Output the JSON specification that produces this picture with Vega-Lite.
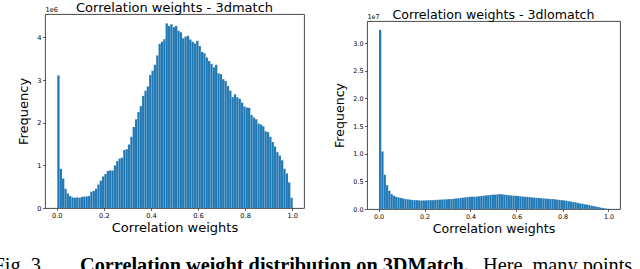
{
  "$schema": "https://vega.github.io/schema/vega-lite/v6.json",
  "padding": {"left": -7, "top": 0, "right": 0, "bottom": 0},
  "background": "white",
  "config": {
    "font": "DejaVu Sans",
    "view": {"stroke": "#333", "strokeWidth": 0.9},
    "axis": {"domain": false, "grid": false, "tickColor": "#000", "tickSize": 2.5, "tickWidth": 0.6, "labelFont": "DejaVu Sans", "labelFontSize": 6.7, "labelColor": "#000", "labelPadding": 1.5, "titleFont": "DejaVu Sans", "titleFontSize": 13, "titleFontWeight": "normal", "titleColor": "#000"},
    "title": {"font": "DejaVu Sans", "fontSize": 13, "fontWeight": "normal", "color": "#000"},
    "bar": {"color": "#1f77b4", "binSpacing": 0, "stroke": "#ffffff", "strokeWidth": 0.25, "strokeOpacity": 0.35}
  },
  "datasets": {
    "m": [
      {"b":0.00,"e":0.01,"v":3110000},{"b":0.01,"e":0.02,"v":920000},{"b":0.02,"e":0.03,"v":690000},{"b":0.03,"e":0.04,"v":450000},{"b":0.04,"e":0.05,"v":340000},
      {"b":0.05,"e":0.06,"v":280000},{"b":0.06,"e":0.07,"v":250000},{"b":0.07,"e":0.08,"v":240000},{"b":0.08,"e":0.09,"v":250000},{"b":0.09,"e":0.10,"v":240000},
      {"b":0.10,"e":0.11,"v":260000},{"b":0.11,"e":0.12,"v":270000},{"b":0.12,"e":0.13,"v":270000},{"b":0.13,"e":0.14,"v":280000},{"b":0.14,"e":0.15,"v":380000},
      {"b":0.15,"e":0.16,"v":400000},{"b":0.16,"e":0.17,"v":450000},{"b":0.17,"e":0.18,"v":550000},{"b":0.18,"e":0.19,"v":640000},{"b":0.19,"e":0.20,"v":740000},
      {"b":0.20,"e":0.21,"v":800000},{"b":0.21,"e":0.22,"v":870000},{"b":0.22,"e":0.23,"v":880000},{"b":0.23,"e":0.24,"v":880000},{"b":0.24,"e":0.25,"v":1000000},
      {"b":0.25,"e":0.26,"v":1100000},{"b":0.26,"e":0.27,"v":1160000},{"b":0.27,"e":0.28,"v":1180000},{"b":0.28,"e":0.29,"v":1360000},{"b":0.29,"e":0.30,"v":1380000},
      {"b":0.30,"e":0.31,"v":1490000},{"b":0.31,"e":0.32,"v":1670000},{"b":0.32,"e":0.33,"v":1900000},{"b":0.33,"e":0.34,"v":2080000},{"b":0.34,"e":0.35,"v":2250000},
      {"b":0.35,"e":0.36,"v":2390000},{"b":0.36,"e":0.37,"v":2630000},{"b":0.37,"e":0.38,"v":2750000},{"b":0.38,"e":0.39,"v":2850000},{"b":0.39,"e":0.40,"v":3120000},
      {"b":0.40,"e":0.41,"v":3220000},{"b":0.41,"e":0.42,"v":3360000},{"b":0.42,"e":0.43,"v":3580000},{"b":0.43,"e":0.44,"v":3850000},{"b":0.44,"e":0.45,"v":3900000},
      {"b":0.45,"e":0.46,"v":3960000},{"b":0.46,"e":0.47,"v":4330000},{"b":0.47,"e":0.48,"v":4270000},{"b":0.48,"e":0.49,"v":4310000},{"b":0.49,"e":0.50,"v":4240000},
      {"b":0.50,"e":0.51,"v":4270000},{"b":0.51,"e":0.52,"v":4160000},{"b":0.52,"e":0.53,"v":4120000},{"b":0.53,"e":0.54,"v":3980000},{"b":0.54,"e":0.55,"v":4020000},
      {"b":0.55,"e":0.56,"v":4040000},{"b":0.56,"e":0.57,"v":3950000},{"b":0.57,"e":0.58,"v":3900000},{"b":0.58,"e":0.59,"v":3860000},{"b":0.59,"e":0.60,"v":3920000},
      {"b":0.60,"e":0.61,"v":3800000},{"b":0.61,"e":0.62,"v":3660000},{"b":0.62,"e":0.63,"v":3630000},{"b":0.63,"e":0.64,"v":3530000},{"b":0.64,"e":0.65,"v":3450000},
      {"b":0.65,"e":0.66,"v":3380000},{"b":0.66,"e":0.67,"v":3300000},{"b":0.67,"e":0.68,"v":3360000},{"b":0.68,"e":0.69,"v":3160000},{"b":0.69,"e":0.70,"v":3140000},
      {"b":0.70,"e":0.71,"v":3020000},{"b":0.71,"e":0.72,"v":2980000},{"b":0.72,"e":0.73,"v":2860000},{"b":0.73,"e":0.74,"v":2750000},{"b":0.74,"e":0.75,"v":2600000},
      {"b":0.75,"e":0.76,"v":2670000},{"b":0.76,"e":0.77,"v":2600000},{"b":0.77,"e":0.78,"v":2560000},{"b":0.78,"e":0.79,"v":2470000},{"b":0.79,"e":0.80,"v":2380000},
      {"b":0.80,"e":0.81,"v":2360000},{"b":0.81,"e":0.82,"v":2350000},{"b":0.82,"e":0.83,"v":2180000},{"b":0.83,"e":0.84,"v":2120000},{"b":0.84,"e":0.85,"v":2080000},
      {"b":0.85,"e":0.86,"v":1980000},{"b":0.86,"e":0.87,"v":1960000},{"b":0.87,"e":0.88,"v":1920000},{"b":0.88,"e":0.89,"v":1800000},{"b":0.89,"e":0.90,"v":1780000},
      {"b":0.90,"e":0.91,"v":1670000},{"b":0.91,"e":0.92,"v":1550000},{"b":0.92,"e":0.93,"v":1440000},{"b":0.93,"e":0.94,"v":1310000},{"b":0.94,"e":0.95,"v":1230000},
      {"b":0.95,"e":0.96,"v":1120000},{"b":0.96,"e":0.97,"v":920000},{"b":0.97,"e":0.98,"v":810000},{"b":0.98,"e":0.99,"v":600000},{"b":0.99,"e":1.00,"v":240000}
    ],
    "lo": [
      {"b":0.00,"e":0.01,"v":32400000},{"b":0.01,"e":0.02,"v":10400000},{"b":0.02,"e":0.03,"v":6200000},{"b":0.03,"e":0.04,"v":4300000},{"b":0.04,"e":0.05,"v":3300000},
      {"b":0.05,"e":0.06,"v":2700000},{"b":0.06,"e":0.07,"v":2400000},{"b":0.07,"e":0.08,"v":2200000},{"b":0.08,"e":0.09,"v":2100000},{"b":0.09,"e":0.10,"v":2000000},
      {"b":0.10,"e":0.11,"v":1900000},{"b":0.11,"e":0.12,"v":1800000},{"b":0.12,"e":0.13,"v":1750000},{"b":0.13,"e":0.14,"v":1700000},{"b":0.14,"e":0.15,"v":1650000},
      {"b":0.15,"e":0.16,"v":1600000},{"b":0.16,"e":0.17,"v":1600000},{"b":0.17,"e":0.18,"v":1550000},{"b":0.18,"e":0.19,"v":1550000},{"b":0.19,"e":0.20,"v":1550000},
      {"b":0.20,"e":0.21,"v":1550000},{"b":0.21,"e":0.22,"v":1600000},{"b":0.22,"e":0.23,"v":1600000},{"b":0.23,"e":0.24,"v":1600000},{"b":0.24,"e":0.25,"v":1650000},
      {"b":0.25,"e":0.26,"v":1650000},{"b":0.26,"e":0.27,"v":1700000},{"b":0.27,"e":0.28,"v":1700000},{"b":0.28,"e":0.29,"v":1750000},{"b":0.29,"e":0.30,"v":1750000},
      {"b":0.30,"e":0.31,"v":1800000},{"b":0.31,"e":0.32,"v":1800000},{"b":0.32,"e":0.33,"v":1850000},{"b":0.33,"e":0.34,"v":1900000},{"b":0.34,"e":0.35,"v":1950000},
      {"b":0.35,"e":0.36,"v":2000000},{"b":0.36,"e":0.37,"v":2050000},{"b":0.37,"e":0.38,"v":2100000},{"b":0.38,"e":0.39,"v":2150000},{"b":0.39,"e":0.40,"v":2200000},
      {"b":0.40,"e":0.41,"v":2250000},{"b":0.41,"e":0.42,"v":2200000},{"b":0.42,"e":0.43,"v":2250000},{"b":0.43,"e":0.44,"v":2300000},{"b":0.44,"e":0.45,"v":2350000},
      {"b":0.45,"e":0.46,"v":2400000},{"b":0.46,"e":0.47,"v":2450000},{"b":0.47,"e":0.48,"v":2500000},{"b":0.48,"e":0.49,"v":2550000},{"b":0.49,"e":0.50,"v":2600000},
      {"b":0.50,"e":0.51,"v":2600000},{"b":0.51,"e":0.52,"v":2650000},{"b":0.52,"e":0.53,"v":2700000},{"b":0.53,"e":0.54,"v":2650000},{"b":0.54,"e":0.55,"v":2600000},
      {"b":0.55,"e":0.56,"v":2550000},{"b":0.56,"e":0.57,"v":2500000},{"b":0.57,"e":0.58,"v":2450000},{"b":0.58,"e":0.59,"v":2400000},{"b":0.59,"e":0.60,"v":2400000},
      {"b":0.60,"e":0.61,"v":2350000},{"b":0.61,"e":0.62,"v":2300000},{"b":0.62,"e":0.63,"v":2250000},{"b":0.63,"e":0.64,"v":2200000},{"b":0.64,"e":0.65,"v":2200000},
      {"b":0.65,"e":0.66,"v":2150000},{"b":0.66,"e":0.67,"v":2100000},{"b":0.67,"e":0.68,"v":2050000},{"b":0.68,"e":0.69,"v":2000000},{"b":0.69,"e":0.70,"v":2000000},
      {"b":0.70,"e":0.71,"v":1950000},{"b":0.71,"e":0.72,"v":1900000},{"b":0.72,"e":0.73,"v":1900000},{"b":0.73,"e":0.74,"v":1850000},{"b":0.74,"e":0.75,"v":1800000},
      {"b":0.75,"e":0.76,"v":1800000},{"b":0.76,"e":0.77,"v":1750000},{"b":0.77,"e":0.78,"v":1700000},{"b":0.78,"e":0.79,"v":1650000},{"b":0.79,"e":0.80,"v":1600000},
      {"b":0.80,"e":0.81,"v":1550000},{"b":0.81,"e":0.82,"v":1500000},{"b":0.82,"e":0.83,"v":1400000},{"b":0.83,"e":0.84,"v":1350000},{"b":0.84,"e":0.85,"v":1250000},
      {"b":0.85,"e":0.86,"v":1200000},{"b":0.86,"e":0.87,"v":1100000},{"b":0.87,"e":0.88,"v":1000000},{"b":0.88,"e":0.89,"v":950000},{"b":0.89,"e":0.90,"v":850000},
      {"b":0.90,"e":0.91,"v":800000},{"b":0.91,"e":0.92,"v":700000},{"b":0.92,"e":0.93,"v":600000},{"b":0.93,"e":0.94,"v":500000},{"b":0.94,"e":0.95,"v":450000},
      {"b":0.95,"e":0.96,"v":350000},{"b":0.96,"e":0.97,"v":250000},{"b":0.97,"e":0.98,"v":180000},{"b":0.98,"e":0.99,"v":100000},{"b":0.99,"e":1.00,"v":40000}
    ]
  },
  "vconcat": [
    {
      "hconcat": [
        {
          "vconcat": [
            {"width": 1, "height": 1, "data": {"values": []}, "mark": "rule", "encoding": {}, "view": {"stroke": null}},
            {
              "title": {"text": "Correlation weights - 3dmatch", "offset": -9},
              "width": 259, "height": 194,
              "data": {"name": "m"},
              "layer": [
                {
                  "mark": {"type": "bar"},
                  "encoding": {
                    "x": {"field": "b", "type": "quantitative", "bin": {"binned": true}, "scale": {"domain": [-0.05, 1.05], "nice": false, "zero": false}, "axis": {"title": "Correlation weights", "values": [0, 0.2, 0.4, 0.6, 0.8, 1.0], "format": ".1f", "titlePadding": 3}},
                    "x2": {"field": "e"},
                    "y": {"field": "v", "type": "quantitative", "scale": {"domain": [0, 4550000], "nice": false}, "axis": {"title": "Frequency", "values": [0, 1000000, 2000000, 3000000, 4000000], "labelExpr": "format(datum.value/1000000, 'd')", "titlePadding": 6}}
                  }
                },
                {
                  "mark": {"type": "bar", "opacity": 0, "strokeOpacity": 0},
                  "encoding": {
                    "x": {"field": "b", "type": "quantitative", "bin": {"binned": true}},
                    "x2": {"field": "e"},
                    "y": {"field": "v", "type": "quantitative", "axis": {"orient": "left", "title": "1e6", "domain": false, "ticks": false, "labels": false, "titleAngle": 0, "titleX": 0, "titleY": -2, "titleAlign": "left", "titleBaseline": "bottom", "titleFontSize": 6.7}}
                  }
                }
              ],
              "resolve": {"axis": {"y": "independent"}}
            }
          ],
          "spacing": 0
        },
        {
          "vconcat": [
            {"width": 1, "height": 7.7, "data": {"values": []}, "mark": "rule", "encoding": {}, "view": {"stroke": null}},
            {
              "title": {"text": "Correlation weights - 3dlomatch", "fontSize": 12.6, "offset": -9},
              "width": 253, "height": 188,
              "data": {"name": "lo"},
              "layer": [
                {
                  "mark": {"type": "bar"},
                  "encoding": {
                    "x": {"field": "b", "type": "quantitative", "bin": {"binned": true}, "scale": {"domain": [-0.05, 1.05], "nice": false, "zero": false}, "axis": {"title": "Correlation weights", "titleFontSize": 12.6, "labelFontSize": 6.4, "values": [0, 0.2, 0.4, 0.6, 0.8, 1.0], "format": ".1f", "titlePadding": 3}},
                    "x2": {"field": "e"},
                    "y": {"field": "v", "type": "quantitative", "scale": {"domain": [0, 34000000], "nice": false}, "axis": {"title": "Frequency", "titleFontSize": 12.6, "labelFontSize": 6.4, "values": [0, 5000000, 10000000, 15000000, 20000000, 25000000, 30000000], "labelExpr": "format(datum.value/10000000, '.1f')", "titlePadding": 6}}
                  }
                },
                {
                  "mark": {"type": "bar", "opacity": 0, "strokeOpacity": 0},
                  "encoding": {
                    "x": {"field": "b", "type": "quantitative", "bin": {"binned": true}},
                    "x2": {"field": "e"},
                    "y": {"field": "v", "type": "quantitative", "axis": {"orient": "left", "title": "1e7", "domain": false, "ticks": false, "labels": false, "titleAngle": 0, "titleX": 0, "titleY": -2, "titleAlign": "left", "titleBaseline": "bottom", "titleFontSize": 6.4}}
                  }
                }
              ],
              "resolve": {"axis": {"y": "independent"}}
            }
          ],
          "spacing": 0
        }
      ],
      "spacing": 28
    },
    {
      "hconcat": [
        {"width": 1, "height": 1, "data": {"values": []}, "mark": "rule", "encoding": {}, "view": {"stroke": null}, "title": {"text": "Fig. 3.", "anchor": "end", "font": "Liberation Serif", "fontSize": 20.3, "fontWeight": "normal", "offset": 0}},
        {
          "hconcat": [
            {"width": 1, "height": 1, "data": {"values": []}, "mark": "rule", "encoding": {}, "view": {"stroke": null}, "title": {"text": "Correlation weight distribution on 3DMatch.", "anchor": "start", "font": "Liberation Serif", "fontSize": 20.3, "fontWeight": "bold", "offset": 0}},
            {"width": 1, "height": 1, "data": {"values": []}, "mark": "rule", "encoding": {}, "view": {"stroke": null}, "title": {"text": "Here, many points", "anchor": "start", "font": "Liberation Serif", "fontSize": 20.3, "fontWeight": "normal", "offset": 0}}
          ],
          "spacing": 14
        }
      ],
      "spacing": 34
    }
  ],
  "spacing": 19
}
